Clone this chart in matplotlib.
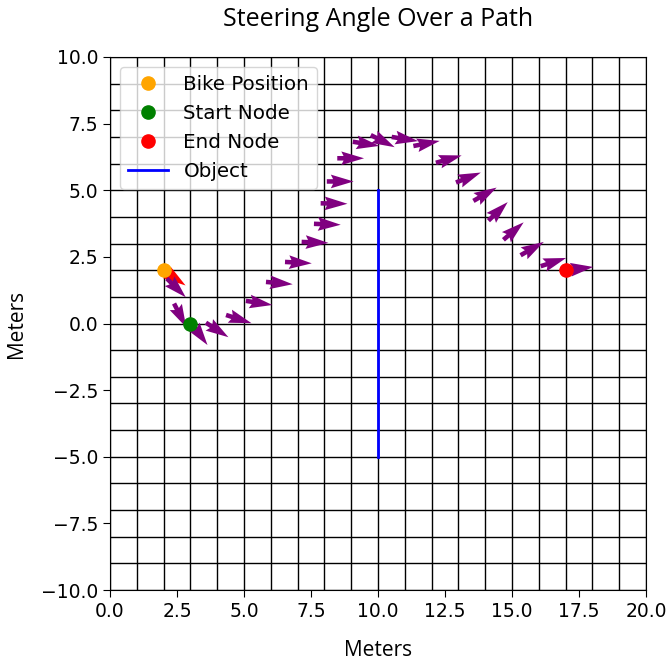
import numpy as np
import matplotlib
matplotlib.use('Agg')
import matplotlib.pyplot as plt

# Path points (tail of each steering arrow) and heading in degrees
path_x = [2.12, 2.39, 3.05, 3.58, 4.33, 5.07, 5.82, 6.53, 7.15, 7.61, 7.86, 8.09, 8.48,
          9.06, 9.73, 10.51, 11.32, 12.16, 12.91, 13.56, 14.12, 14.68, 15.32, 16.07, 17.04]
path_y = [1.69, 0.75, 0.00, 0.03, 0.32, 0.85, 1.56, 2.31, 3.06, 3.74, 4.51, 5.33, 6.20,
          6.82, 7.07, 7.00, 6.66, 6.03, 5.29, 4.60, 3.86, 3.14, 2.56, 2.15, 2.00]
heading_deg = [-45, -63, -54, -33, -18, -9, -5, -3, -2, -2, -1, 0, 0,
               -9, -27, -9, 11, 16, 22, 30, 44, 41, 30, 18, 7]

bike_pos = (2, 2)
bike_heading = -35
start_node = (3, 0)
end_node = (17, 2)
object_x = [10, 10]
object_y = [-5, 5]

title_font = 'Open Sans'

fig = plt.figure(figsize=(6.68, 6.61), dpi=100)
ax = fig.add_axes([110 / 668, 71 / 661, 536 / 668, 533 / 661])

# grid every metre, tick labels every 2.5
ax.xaxis.remove_overlapping_locs = False
ax.yaxis.remove_overlapping_locs = False
ax.set_xticks(np.arange(0, 21, 1), minor=True)
ax.set_yticks(np.arange(-10, 11, 1), minor=True)
ax.tick_params(which='minor', length=0)
ax.grid(which='minor', color='black', linewidth=1.0)
ax.set_axisbelow(True)

# steering arrows
th = np.radians(heading_deg)
ax.quiver(path_x, path_y, np.cos(th), np.sin(th), color='purple',
          angles='xy', scale_units='xy', scale=1, width=0.0085, zorder=3)
bt = np.radians(bike_heading)
ax.quiver([bike_pos[0]], [bike_pos[1]], [np.cos(bt)], [np.sin(bt)], color='red',
          angles='xy', scale_units='xy', scale=1, width=0.0085, zorder=2)

ax.plot(bike_pos[0], bike_pos[1], 'o', color='orange', markersize=9.5, label='Bike Position', zorder=4)
ax.plot(start_node[0], start_node[1], 'o', color='green', markersize=9.5, label='Start Node', zorder=4)
ax.plot(end_node[0], end_node[1], 'o', color='red', markersize=9.5, label='End Node', zorder=4)
ax.plot(object_x, object_y, color='blue', linewidth=2, label='Object', zorder=3)

ax.set_xlim(0, 20)
ax.set_ylim(-10, 10)
ax.set_xticks(np.arange(0, 20.1, 2.5))
ax.set_yticks(np.arange(-10, 10.1, 2.5))
ax.tick_params(which='major', labelsize=13.5, length=5)

ax.set_title('Steering Angle Over a Path', fontsize=18, family=title_font, pad=22)
ax.set_xlabel('Meters', fontsize=15, family=title_font, labelpad=14)
ax.set_ylabel('Meters', fontsize=15, family=title_font, labelpad=10)

ax.legend(loc='upper left', fontsize=14.3, framealpha=0.8)

fig.savefig('out.png', dpi=100)
